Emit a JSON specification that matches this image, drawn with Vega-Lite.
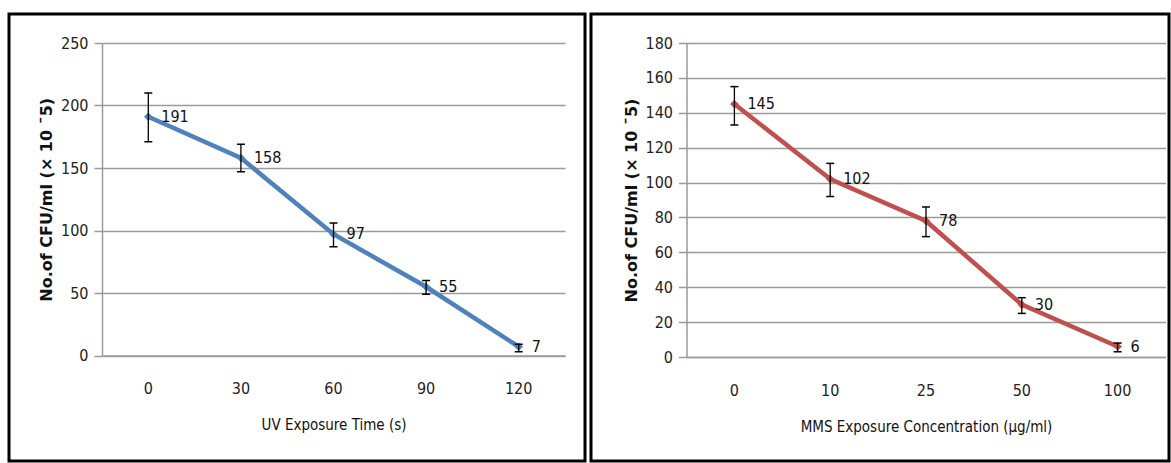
{
  "$schema": "https://vega.github.io/schema/vega-lite/v6.json",
  "padding": {"left": 7, "top": 12, "right": 0, "bottom": 0},
  "spacing": 2,
  "config": {
    "view": {"stroke": "#000000", "strokeWidth": 3},
    "axis": {
      "labelFont": "Liberation Sans Narrow, DejaVu Sans Condensed, Roboto, sans-serif",
      "labelFontSize": 16,
      "labelColor": "#222222",
      "titleFont": "Liberation Sans Narrow, DejaVu Sans Condensed, Roboto, sans-serif",
      "titleColor": "#111111",
      "gridColor": "#9a9a9a",
      "gridWidth": 1.5,
      "domainColor": "#9a9a9a",
      "domainWidth": 1.5,
      "tickColor": "#9a9a9a",
      "tickWidth": 1.5
    }
  },
  "hconcat": [
    {
      "width": 576,
      "height": 447,
      "data": {"values": [
        {"t": "0", "cfu": 191, "lo": 171, "hi": 210},
        {"t": "30", "cfu": 158, "lo": 147, "hi": 169},
        {"t": "60", "cfu": 97, "lo": 87, "hi": 106},
        {"t": "90", "cfu": 55, "lo": 49, "hi": 60},
        {"t": "120", "cfu": 7, "lo": 3, "hi": 9}
      ]},
      "encoding": {
        "x": {
          "field": "t", "type": "ordinal", "bandPosition": 0.5,
          "scale": {"type": "band", "domain": ["0", "30", "60", "90", "120"], "range": [93, 556], "paddingInner": 0, "paddingOuter": 0},
          "axis": {"title": "UV Exposure Time (s)", "orient": "bottom", "offset": -105.5, "labelAngle": 0, "ticks": false, "grid": false, "domain": true, "labelPadding": 25, "titlePadding": 21, "titleFontSize": 15, "titleFontWeight": "normal"}
        }
      },
      "layer": [
        {
          "mark": {"type": "line", "color": "#4F81BD", "strokeWidth": 4.5},
          "encoding": {
            "y": {
              "field": "cfu", "type": "quantitative",
              "scale": {"domain": [0, 250], "range": [341.5, 29], "nice": false, "zero": true},
              "axis": {"title": "No.of CFU/ml (× 10 ¯5)", "orient": "left", "values": [0, 50, 100, 150, 200, 250], "offset": -93, "grid": true, "tickSize": 8, "labelPadding": 6, "titleFont": "DejaVu Sans", "titleFontWeight": "bold", "titleFontSize": 16, "titlePadding": 6}
            }
          }
        },
        {
          "mark": {"type": "point", "shape": "diamond", "filled": true, "size": 75, "color": "#4F81BD", "opacity": 1},
          "encoding": {"y": {"field": "cfu", "type": "quantitative"}}
        },
        {
          "mark": {"type": "rule", "color": "#000000", "strokeWidth": 1.3},
          "encoding": {"y": {"field": "lo", "type": "quantitative"}, "y2": {"field": "hi"}}
        },
        {
          "mark": {"type": "tick", "color": "#000000", "size": 8, "thickness": 1.5, "orient": "horizontal", "opacity": 1},
          "encoding": {"y": {"field": "lo", "type": "quantitative"}}
        },
        {
          "mark": {"type": "tick", "color": "#000000", "size": 8, "thickness": 1.5, "orient": "horizontal", "opacity": 1},
          "encoding": {"y": {"field": "hi", "type": "quantitative"}}
        },
        {
          "mark": {"type": "text", "align": "left", "baseline": "middle", "dx": 13, "fontSize": 16, "font": "Liberation Sans Narrow, DejaVu Sans Condensed, Roboto, sans-serif", "color": "#111111"},
          "encoding": {"y": {"field": "cfu", "type": "quantitative"}, "text": {"field": "cfu", "type": "quantitative"}}
        }
      ]
    },
    {
      "width": 578,
      "height": 447,
      "data": {"values": [
        {"c": "0", "cfu": 145, "lo": 133, "hi": 155},
        {"c": "10", "cfu": 102, "lo": 92, "hi": 111},
        {"c": "25", "cfu": 78, "lo": 69, "hi": 86},
        {"c": "50", "cfu": 30, "lo": 25, "hi": 34},
        {"c": "100", "cfu": 6, "lo": 3, "hi": 8}
      ]},
      "encoding": {
        "x": {
          "field": "c", "type": "ordinal", "bandPosition": 0.5,
          "scale": {"type": "band", "domain": ["0", "10", "25", "50", "100"], "range": [95.5, 574.5], "paddingInner": 0, "paddingOuter": 0},
          "axis": {"title": "MMS Exposure Concentration (µg/ml)", "orient": "bottom", "offset": -104, "labelAngle": 0, "ticks": false, "grid": false, "domain": true, "labelPadding": 25, "titlePadding": 21, "titleFontSize": 15, "titleFontWeight": "normal"}
        }
      },
      "layer": [
        {
          "mark": {"type": "line", "color": "#C0504D", "strokeWidth": 4.5},
          "encoding": {
            "y": {
              "field": "cfu", "type": "quantitative",
              "scale": {"domain": [0, 180], "range": [343, 29], "nice": false, "zero": true},
              "axis": {"title": "No.of CFU/ml (× 10 ¯5)", "orient": "left", "values": [0, 20, 40, 60, 80, 100, 120, 140, 160, 180], "offset": -95.5, "grid": true, "tickSize": 8, "labelPadding": 6, "titleFont": "DejaVu Sans", "titleFontWeight": "bold", "titleFontSize": 16, "titlePadding": 6}
            }
          }
        },
        {
          "mark": {"type": "point", "shape": "diamond", "filled": true, "size": 75, "color": "#C0504D", "opacity": 1},
          "encoding": {"y": {"field": "cfu", "type": "quantitative"}}
        },
        {
          "mark": {"type": "rule", "color": "#000000", "strokeWidth": 1.3},
          "encoding": {"y": {"field": "lo", "type": "quantitative"}, "y2": {"field": "hi"}}
        },
        {
          "mark": {"type": "tick", "color": "#000000", "size": 8, "thickness": 1.5, "orient": "horizontal", "opacity": 1},
          "encoding": {"y": {"field": "lo", "type": "quantitative"}}
        },
        {
          "mark": {"type": "tick", "color": "#000000", "size": 8, "thickness": 1.5, "orient": "horizontal", "opacity": 1},
          "encoding": {"y": {"field": "hi", "type": "quantitative"}}
        },
        {
          "mark": {"type": "text", "align": "left", "baseline": "middle", "dx": 13, "fontSize": 16, "font": "Liberation Sans Narrow, DejaVu Sans Condensed, Roboto, sans-serif", "color": "#111111"},
          "encoding": {"y": {"field": "cfu", "type": "quantitative"}, "text": {"field": "cfu", "type": "quantitative"}}
        }
      ]
    }
  ]
}
